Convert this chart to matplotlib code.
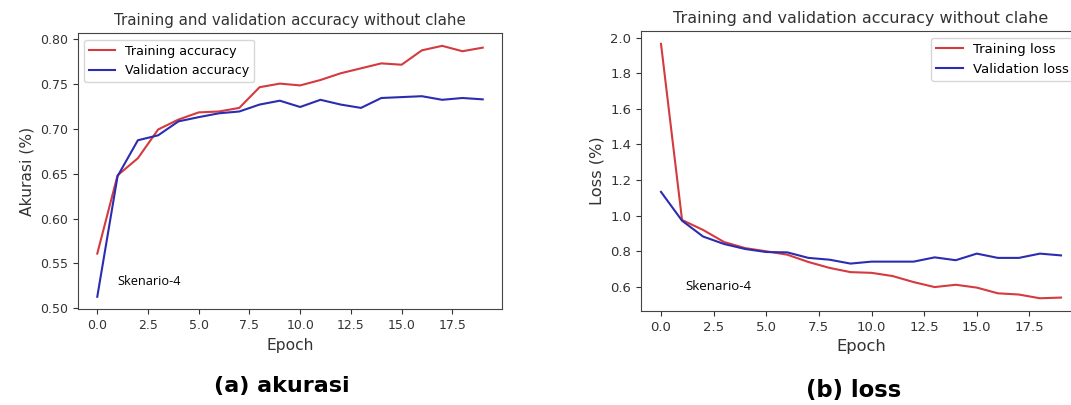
import numpy as np
import matplotlib.pyplot as plt

epochs = np.arange(20)

train_acc = [0.561, 0.648, 0.667, 0.699, 0.710, 0.718, 0.719, 0.723, 0.746, 0.750,
             0.748, 0.754, 0.7615, 0.767, 0.7725, 0.771, 0.787, 0.792, 0.786, 0.790]
val_acc = [0.513, 0.647, 0.687, 0.6925, 0.708, 0.7127, 0.717, 0.719, 0.7267, 0.731,
           0.724, 0.732, 0.7267, 0.723, 0.734, 0.735, 0.736, 0.732, 0.734, 0.7325]

train_loss = [1.965, 0.975, 0.919, 0.851, 0.817, 0.799, 0.780, 0.739, 0.706, 0.682,
              0.678, 0.660, 0.626, 0.598, 0.611, 0.595, 0.563, 0.556, 0.535, 0.539]
val_loss = [1.133, 0.971, 0.882, 0.840, 0.812, 0.795, 0.793, 0.762, 0.752, 0.730,
            0.741, 0.741, 0.741, 0.765, 0.749, 0.786, 0.762, 0.762, 0.786, 0.776]

red = '#d43a3e'
blue = '#2c2cb0'
txt = '#333333'

plt.rcParams['font.family'] = 'DejaVu Sans'

fig = plt.figure(figsize=(10.71, 4.05), dpi=100)
ax1 = fig.add_axes([78 / 1071, 0.2363, 424 / 1071, 0.6815])
ax2 = fig.add_axes([641 / 1071, 0.2321, 440 / 1071, 0.691])

title = 'Training and validation accuracy without clahe'

# (a) akurasi
ax1.plot(epochs, train_acc, color=red, lw=1.5, label='Training accuracy')
ax1.plot(epochs, val_acc, color=blue, lw=1.5, label='Validation accuracy')
ax1.set_title(title, fontsize=10.8, color=txt)
ax1.set_xlabel('Epoch', fontsize=11.2, color=txt)
ax1.set_ylabel('Akurasi (%)', fontsize=11.2, color=txt)
ax1.set_yticks([0.50, 0.55, 0.60, 0.65, 0.70, 0.75, 0.80])
ax1.legend(loc='upper left', fontsize=9.1)
ax1.text(1.0, 0.53, 'Skenario-4', fontsize=9.2, family='Open Sans', va='center')
ax1.tick_params(labelsize=9.0, colors=txt)

# (b) loss
ax2.plot(epochs, train_loss, color=red, lw=1.5, label='Training loss')
ax2.plot(epochs, val_loss, color=blue, lw=1.5, label='Validation loss')
ax2.set_title(title, fontsize=11.5, color=txt)
ax2.set_xlabel('Epoch', fontsize=11.7, color=txt)
ax2.set_ylabel('Loss (%)', fontsize=11.7, color=txt)
ax2.set_yticks([0.6, 0.8, 1.0, 1.2, 1.4, 1.6, 1.8, 2.0])
ax2.legend(loc='upper right', fontsize=9.5)
ax2.text(1.17, 0.6, 'Skenario-4', fontsize=9.5, family='Open Sans', va='center')
ax2.tick_params(labelsize=9.5, colors=txt)

for ax in (ax1, ax2):
    ax.set_xticks([0.0, 2.5, 5.0, 7.5, 10.0, 12.5, 15.0, 17.5])
    for s in ax.spines.values():
        s.set_color('#444444')

fig.text(0.263, 0.047, '(a) akurasi', fontsize=16, fontweight='bold', ha='center', va='center')
fig.text(0.797, 0.035, '(b) loss', fontsize=16.4, fontweight='bold', ha='center', va='center')

fig.savefig('out.png', dpi=100)
